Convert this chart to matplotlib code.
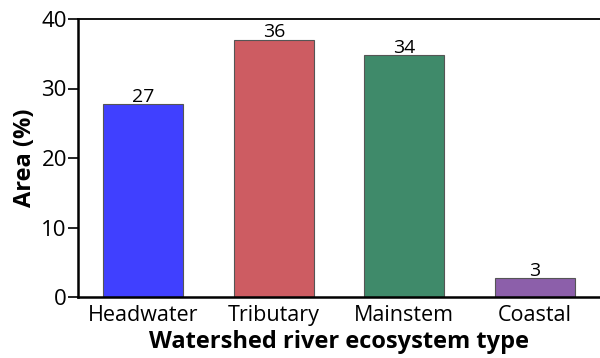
import matplotlib
matplotlib.use("Agg")
import matplotlib.pyplot as plt

categories = ["Headwater", "Tributary", "Mainstem", "Coastal"]
values = [27.7, 37.0, 34.8, 2.7]
labels = ["27", "36", "34", "3"]
colors = ["#4040FF", "#CD5C62", "#3F8A6A", "#8C5FAA"]
yticks = [0, 10, 20, 30, 40]

plt.rcParams['font.family'] = ['Open Sans', 'DejaVu Sans']

fig = plt.figure(figsize=(6.0, 3.58), dpi=100)
ax = fig.add_axes([78/600, 61/358, 522/600, 278/358])

x = list(range(len(categories)))
bars = ax.bar(x, values, width=0.61, color=colors, edgecolor="#555555", linewidth=0.8)
for b, lab in zip(bars, labels):
    ax.text(b.get_x() + b.get_width()/2, b.get_height() - 0.2, lab,
            ha="center", va="bottom", fontsize=14)

ax.set_xlim(-0.5, 3.5)
ax.set_ylim(0, 40)
ax.set_yticks(yticks)
ax.set_xticks(x)
ax.set_xticklabels(categories, fontsize=15.5)
ax.tick_params(axis="y", labelsize=16, length=7, width=1.2, pad=1)
ax.tick_params(axis="x", length=0, pad=6)
ax.spines["right"].set_visible(False)
ax.spines["left"].set_linewidth(1.8)
ax.spines["bottom"].set_linewidth(1.8)
ax.spines["top"].set_linewidth(1.3)
ax.set_ylabel("Area (%)", fontsize=17, fontweight="bold", labelpad=3)
ax.set_xlabel("Watershed river ecosystem type", fontsize=17, fontweight="bold", labelpad=3)

fig.savefig("out.png", dpi=100)
